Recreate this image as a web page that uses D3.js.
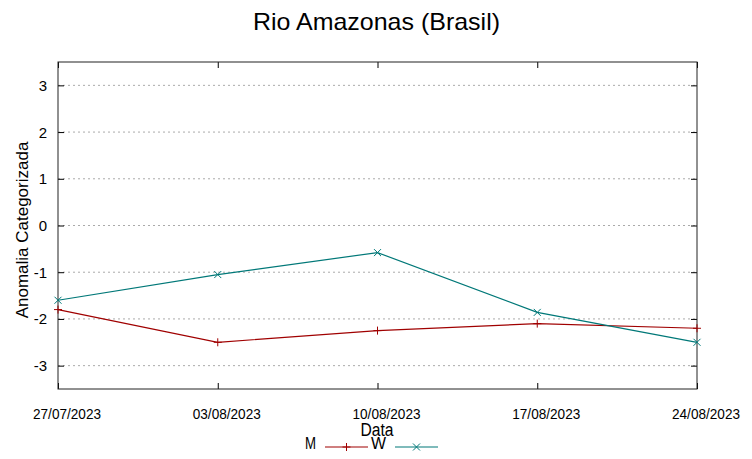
<!DOCTYPE html>
<html>
<head>
<meta charset="utf-8">
<script src="https://cdn.jsdelivr.net/npm/d3@7"></script>
<style>
  body { margin: 0; background: #fff; }
  svg { display: block; }
</style>
</head>
<body>
<div id="chart"></div>
<script>
// chart values
var dates = ["27/07/2023", "03/08/2023", "10/08/2023", "17/08/2023", "24/08/2023"];
var valuesM = [-1.8, -2.5, -2.25, -2.1, -2.2];
var valuesW = [-1.6, -1.05, -0.58, -1.86, -2.5];
var yTicks = [-3, -2, -1, 0, 1, 2, 3];

var W = 752, H = 459;
var margin = { left: 58, right: 55, top: 62, bottom: 70 };
var font = "'Liberation Sans', Arial, sans-serif";

var parse = d3.timeParse("%d/%m/%Y");
var fmt = d3.timeFormat("%d/%m/%Y");
var dateObjs = dates.map(parse);

var svg = d3.select("#chart").append("svg")
    .attr("width", W)
    .attr("height", H);

var x = d3.scaleTime()
    .domain([dateObjs[0], dateObjs[dateObjs.length - 1]])
    .range([margin.left, W - margin.right]);

var y = d3.scaleLinear()
    .domain([-3.5, 3.5])
    .range([H - margin.bottom, margin.top]);

// grid lines (dotted)
svg.append("g")
    .selectAll("line")
    .data(yTicks)
    .join("line")
    .attr("x1", margin.left)
    .attr("x2", W - margin.right)
    .attr("y1", d => y(d))
    .attr("y2", d => y(d))
    .attr("stroke", "#aaa")
    .attr("stroke-width", 1)
    .attr("stroke-dasharray", "2,3");

// y axis left and right (ticks inside)
var yLeft = svg.append("g")
    .attr("transform", `translate(${margin.left},0)`)
    .call(d3.axisRight(y).tickValues(yTicks).tickSize(6).tickFormat(""));
var yRight = svg.append("g")
    .attr("transform", `translate(${W - margin.right},0)`)
    .call(d3.axisLeft(y).tickValues(yTicks).tickSize(6).tickFormat(""));

// x axis bottom and top (ticks inside)
var xBottom = svg.append("g")
    .attr("transform", `translate(0,${H - margin.bottom})`)
    .call(d3.axisTop(x).tickValues(dateObjs).tickSize(6).tickFormat(""));
var xTop = svg.append("g")
    .attr("transform", `translate(0,${margin.top})`)
    .call(d3.axisBottom(x).tickValues(dateObjs).tickSize(6).tickFormat(""));

[yLeft, yRight, xBottom, xTop].forEach(function (g) {
    g.select(".domain").remove();
    g.selectAll(".tick line").attr("stroke", "#000");
});

// y tick labels
svg.append("g")
    .selectAll("text")
    .data(yTicks)
    .join("text")
    .attr("x", 47)
    .attr("y", d => y(d) + 5.5)
    .attr("text-anchor", "end")
    .attr("font-family", font)
    .attr("font-size", "15px")
    .attr("fill", "#000")
    .text(d => d);

// x tick labels (condensed look)
svg.append("g")
    .selectAll("text")
    .data(dateObjs)
    .join("text")
    .attr("x", d => x(d) + 9)
    .attr("y", 419)
    .attr("text-anchor", "middle")
    .attr("font-family", font)
    .attr("font-size", "15px")
    .attr("textLength", 68)
    .attr("lengthAdjust", "spacingAndGlyphs")
    .attr("fill", "#000")
    .text(d => fmt(d));

// frame
svg.append("rect")
    .attr("x", margin.left)
    .attr("y", margin.top)
    .attr("width", W - margin.left - margin.right)
    .attr("height", H - margin.top - margin.bottom)
    .attr("fill", "none")
    .attr("stroke", "#222")
    .attr("stroke-width", 1);

var series = [
    { name: "M", values: valuesM, color: "#a00000", marker: "plus" },
    { name: "W", values: valuesW, color: "#007878", marker: "cross" }
];

var line = d3.line()
    .x((d, i) => x(dateObjs[i]))
    .y(d => y(d));

function marker(g, type, cx, cy, color) {
    var s = 4;
    if (type === "plus") {
        g.append("path")
            .attr("d", `M${cx - s},${cy}H${cx + s}M${cx},${cy - s}V${cy + s}`)
            .attr("stroke", color).attr("stroke-width", 1).attr("fill", "none");
    } else {
        s = 3.5;
        g.append("path")
            .attr("d", `M${cx - s},${cy - s}L${cx + s},${cy + s}M${cx - s},${cy + s}L${cx + s},${cy - s}`)
            .attr("stroke", color).attr("stroke-width", 1).attr("fill", "none");
    }
}

series.forEach(function (s) {
    svg.append("path")
        .datum(s.values)
        .attr("d", line)
        .attr("fill", "none")
        .attr("stroke", s.color)
        .attr("stroke-width", 1.2);
    var mg = svg.append("g");
    s.values.forEach(function (v, i) {
        marker(mg, s.marker, x(dateObjs[i]), y(v), s.color);
    });
});

// title
svg.append("text")
    .attr("x", 376.5)
    .attr("y", 30)
    .attr("text-anchor", "middle")
    .attr("font-family", font)
    .attr("font-size", "24px")
    .attr("textLength", 247)
    .attr("lengthAdjust", "spacingAndGlyphs")
    .attr("fill", "#000")
    .text("Rio Amazonas (Brasil)");

// y label
svg.append("text")
    .attr("transform", `translate(28,230) rotate(-90)`)
    .attr("text-anchor", "middle")
    .attr("font-family", font)
    .attr("font-size", "17px")
    .attr("fill", "#000")
    .text("Anomalia Categorizada");

// x label
svg.append("text")
    .attr("x", 377)
    .attr("y", 436)
    .attr("text-anchor", "middle")
    .attr("font-family", font)
    .attr("font-size", "18px")
    .attr("textLength", 33)
    .attr("lengthAdjust", "spacingAndGlyphs")
    .attr("fill", "#000")
    .text("Data");

// legend
var legendItems = [
    { s: series[0], tx: 316, x1: 325, x2: 368 },
    { s: series[1], tx: 386, x1: 395, x2: 438 }
];
var ly = 447;
legendItems.forEach(function (d) {
    svg.append("text")
        .attr("x", d.tx)
        .attr("y", ly + 2)
        .attr("text-anchor", "end")
        .attr("font-family", font)
        .attr("font-size", "17px")
        .attr("textLength", d.s.name === "M" ? 11 : 15)
        .attr("lengthAdjust", "spacingAndGlyphs")
        .attr("fill", "#000")
        .text(d.s.name);
    svg.append("line")
        .attr("x1", d.x1).attr("x2", d.x2)
        .attr("y1", ly).attr("y2", ly)
        .attr("stroke", d.s.color)
        .attr("stroke-width", 1.2);
    marker(svg, d.s.marker, (d.x1 + d.x2) / 2, ly, d.s.color);
});
</script>
</body>
</html>
